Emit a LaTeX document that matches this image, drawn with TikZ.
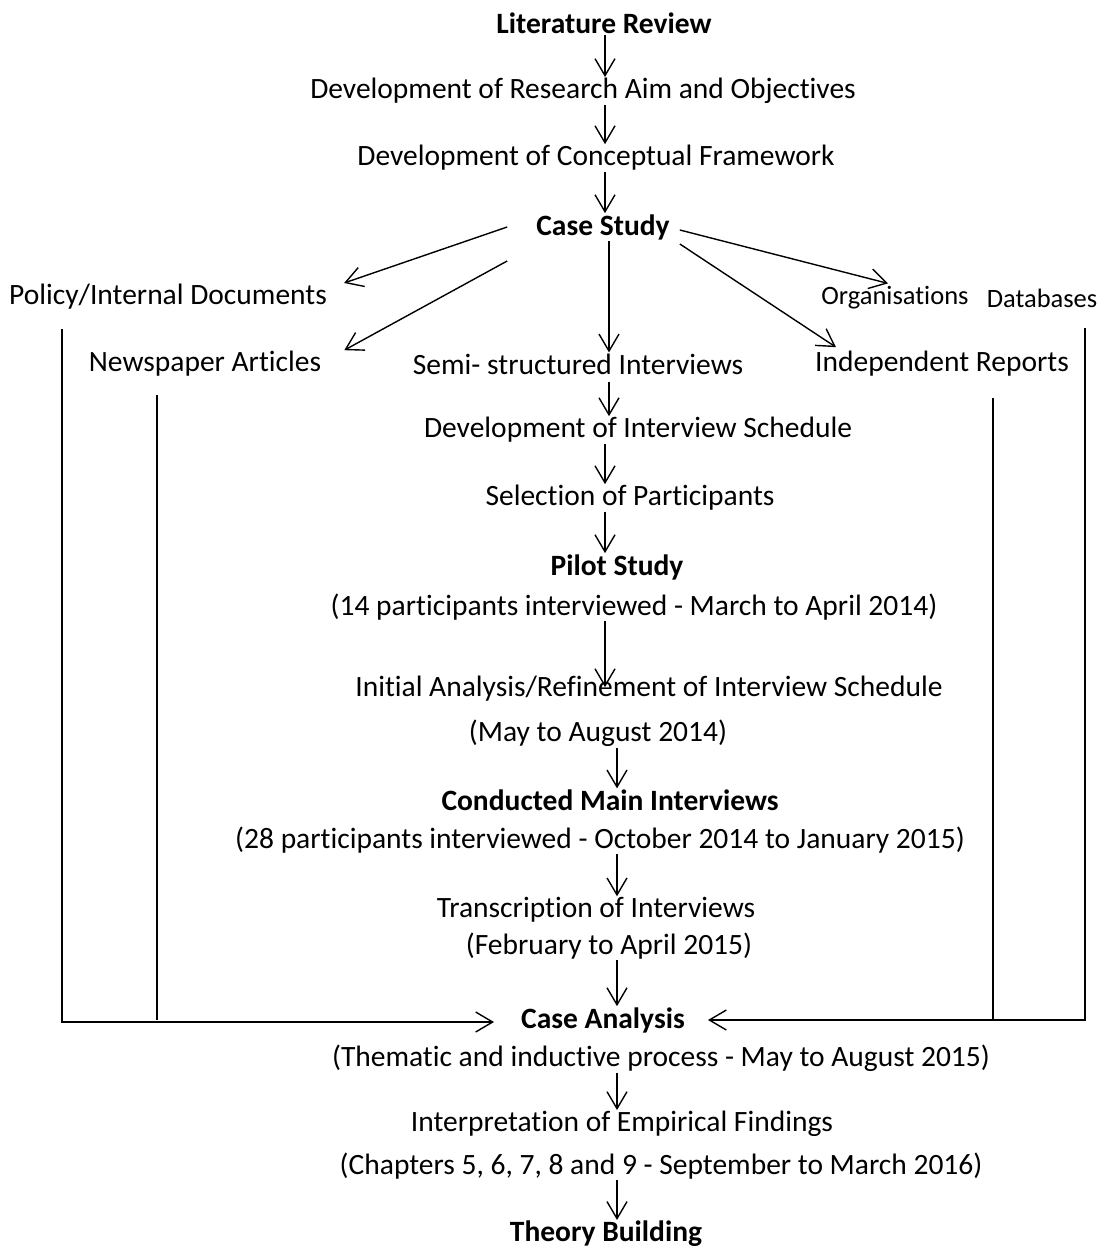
\documentclass[tikz,border=0pt]{standalone}
\usepackage{fontspec}
\setmainfont{Carlito}[RawFeature={-liga;-clig;-dlig;-calt}]
\usetikzlibrary{arrows.meta,positioning}

\begin{document}
\begin{tikzpicture}[x=1pt,y=-1pt,
  lbl/.style={font=\fontsize{29.5}{34}\selectfont,inner sep=1pt},
  hd/.style={font=\fontsize{29.5}{34}\selectfont\bfseries,inner sep=1pt},
  sml/.style={font=\fontsize{26.5}{30}\selectfont,inner sep=1pt},
  ln/.style={line width=1.4pt},
  arr/.style={ln,-{Straight Barb[length=17pt,width=20pt,line width=1.4pt]}}]
\useasboundingbox (0,0) rectangle (1109,1249);

% top of the flow
\node[hd]  (lit)   at (604,23)   {Literature Review};
\node[lbl] (aim)   at (583,91)   {Development of Research Aim and Objectives};
\node[lbl] (frame) at (596,158)  {Development of Conceptual Framework};
\node[hd]  (cs)    at (603,227)  {Case Study};

% data sources
\node[lbl] (pol)   at (168,297)  {Policy/Internal Documents};
\node[sml] (org)   at (895,298)  {Organisations};
\node[sml] (db)    at (1042,298) {Databases};
\node[lbl] (news)  at (205,364)  {Newspaper Articles};
\node[lbl] (semi)  at (578,364)  {Semi- structured Interviews};
\node[lbl] (ind)   at (942,364)  {Independent Reports};

% interview strand
\node[lbl] (sched) at (638,430)  {Development of Interview Schedule};
\node[lbl] (sel)   at (630,498)  {Selection of Participants};
\node[hd]  (pilot) at (617,567)  {Pilot Study};
\node[lbl] (pilotd) at (634,607) {(14 participants interviewed - March to April 2014)};
\node[lbl] (init)  at (649,689)  {Initial Analysis/Refinement of Interview Schedule};
\node[lbl] (initd) at (598,733)  {(May to August 2014)};
\node[hd]  (main)  at (610,800)  {Conducted Main Interviews};
\node[lbl] (maind) at (600,840)  {(28 participants interviewed - October 2014 to January 2015)};
\node[lbl] (trans) at (596,910)  {Transcription of Interviews};
\node[lbl] (transd) at (609,946) {(February to April 2015)};

% analysis
\node[hd]  (ca)    at (603,1020) {Case Analysis};
\node[lbl] (cad)   at (661,1058) {(Thematic and inductive process - May to August 2015)};
\node[lbl] (interp) at (622,1124) {Interpretation of Empirical Findings};
\node[lbl] (interpd) at (661,1166) {(Chapters 5, 6, 7, 8 and 9 - September to March 2016)};
\node[hd]  (theory) at (606,1234) {Theory Building};

\coordinate (sx) at (609,0);
\coordinate (mx) at (605,0);
\coordinate (lx) at (617,0);

\draw[arr] (lit.south -| mx) -- (aim.north -| mx);
\draw[arr] (aim.south -| mx) -- (frame.north -| mx);
\draw[arr] (frame.south -| mx) -- (cs.north -| mx);

\draw[arr] ([shift={(-28,0)}]cs.west) -- ([shift={(16,-14)}]pol.east);
\draw[arr] ([shift={(-28,34)}]cs.west) -- ([shift={(22,0)}]news.north east);
\draw[arr] (cs.south -| sx) -- (semi.north -| sx);
\draw[arr] ([shift={(9,3)}]cs.east) -- ([shift={(-7,-2)}]org.north);
\draw[arr] ([shift={(9,17)}]cs.east) -- ([shift={(22,-3)}]ind.north west);

\draw[arr] ([yshift=-6pt]semi.south -| sx) -- (sched.north -| sx);
\draw[arr] (sched.south -| mx) -- (sel.north -| mx);
\draw[arr] (sel.south -| mx) -- (pilot.north -| mx);
\draw[arr] (pilotd.south -| mx) -- ([yshift=-12pt]init.north -| mx);
\draw[arr] (initd.south -| lx) -- (main.north -| lx);
\draw[arr] (maind.south -| lx) -- (trans.north -| lx);
\draw[arr] (transd.south -| lx) -- (ca.north -| lx);
\draw[arr] (cad.south -| lx) -- (interp.north -| lx);
\draw[arr] (interpd.south -| lx) -- (theory.north -| lx);

% side sources into the case analysis
\coordinate (lo) at (62,329);
\coordinate (li) at (157,395);
\coordinate (ri) at (993,398);
\coordinate (ro) at (1085,328);
\draw[arr] (lo) |- ([shift={(-26,2)}]ca.west);
\draw[ln] (li) -- (li |- ca.west);
\draw[arr] (ro) |- ([xshift=22pt]ca.east);
\draw[ln] (ri) -- (ri |- ca.east);
\end{tikzpicture}
\end{document}
